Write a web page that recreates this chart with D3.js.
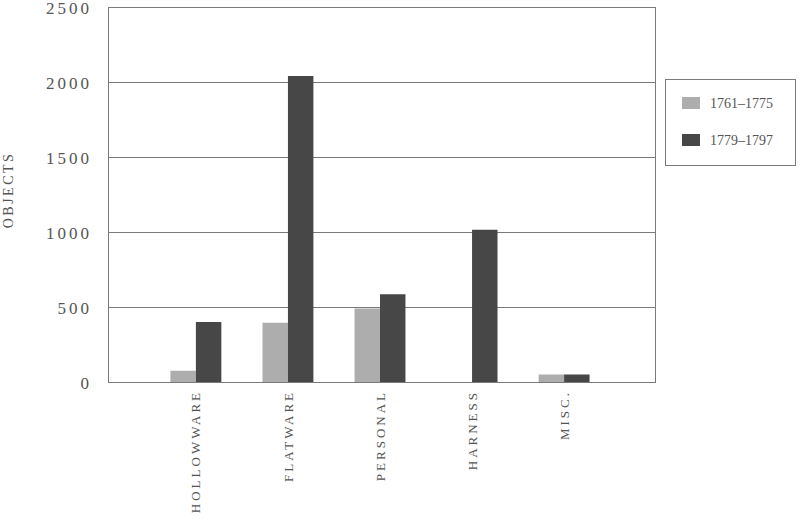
<!DOCTYPE html>
<html>
<head>
<meta charset="utf-8">
<script src="https://cdn.jsdelivr.net/npm/d3@7"></script>
<style>
  html, body { margin: 0; padding: 0; background: #fff; }
  svg text { font-family: "Liberation Serif", "DejaVu Serif", serif; fill: #555; }
</style>
</head>
<body>
<svg id="chart" width="800" height="520"></svg>
<script>
const categories = ["HOLLOWWARE", "FLATWARE", "PERSONAL", "HARNESS", "MISC."];
const seriesNames = ["1761–1775", "1779–1797"];
const series1761 = [75, 395, 490, 0, 50];
const series1779 = [400, 2040, 585, 1015, 50];
const yTicks = [0, 500, 1000, 1500, 2000, 2500];
const colors = ["#adadad", "#474747"];

const svg = d3.select("#chart");
const plot = { left: 108, right: 655, top: 7, bottom: 382 };

const y = d3.scaleLinear().domain([0, 2500]).range([plot.bottom, plot.top]);
const x = d3.scaleBand().domain(categories).range([150, 610])
  .paddingInner(0.447).paddingOuter(0.222);
const xs = d3.scaleBand().domain([0, 1]).range([0, x.bandwidth()]);

// gridlines
svg.append("g").selectAll("line").data(yTicks).join("line")
  .attr("x1", plot.left).attr("x2", plot.right)
  .attr("y1", d => y(d) + 0.5).attr("y2", d => y(d) + 0.5)
  .attr("stroke", "#7a7a7a").attr("stroke-width", 1);

// frame
svg.append("rect")
  .attr("x", plot.left + 0.5).attr("y", plot.top + 0.5)
  .attr("width", plot.right - plot.left).attr("height", plot.bottom - plot.top)
  .attr("fill", "none").attr("stroke", "#7a7a7a").attr("stroke-width", 1);

// bars
const data = categories.map((c, i) => ({ c, vals: [series1761[i], series1779[i]] }));
const groups = svg.append("g").selectAll("g").data(data).join("g")
  .attr("transform", d => `translate(${x(d.c)},0)`);
groups.selectAll("rect").data(d => d.vals.map((v, k) => ({ v, k }))).join("rect")
  .attr("x", d => xs(d.k)).attr("width", xs.bandwidth())
  .attr("y", d => y(d.v)).attr("height", d => y(0) - y(d.v))
  .attr("fill", d => colors[d.k]);

// y axis labels
const yAxis = d3.axisLeft(y).tickValues(yTicks).tickSize(0).tickPadding(16).tickFormat(d3.format("d"));
const ga = svg.append("g").attr("transform", `translate(${plot.left},0)`).call(yAxis);
ga.select(".domain").remove();
ga.selectAll("text").style("font-size", "17px").style("letter-spacing", "3px")
  .attr("fill", "#555").attr("dy", "0.36em");

// y axis title
svg.append("text").attr("transform", "translate(13,190) rotate(-90)")
  .attr("text-anchor", "middle").style("font-size", "14px").style("letter-spacing", "2.5px")
  .text("OBJECTS");

// x axis labels (rotated)
const xAxis = d3.axisBottom(x).tickSize(0).tickPadding(0);
const gx = svg.append("g").attr("transform", `translate(0,${plot.bottom})`).call(xAxis);
gx.select(".domain").remove();
gx.selectAll("text")
  .attr("transform", "rotate(-90)")
  .attr("x", -8).attr("y", 0).attr("dy", "0.35em")
  .attr("text-anchor", "end")
  .attr("fill", "#555")
  .style("font-size", "13px").style("letter-spacing", "3px");

// legend
const lg = svg.append("g");
lg.append("rect").attr("x", 665.5).attr("y", 79.5).attr("width", 130).attr("height", 86)
  .attr("fill", "#fff").attr("stroke", "#7a7a7a");
const items = lg.selectAll("g.item").data(seriesNames).join("g").attr("class", "item")
  .attr("transform", (d, i) => `translate(682,${97 + i * 37})`);
items.append("rect").attr("width", 18).attr("height", 12).attr("fill", (d, i) => colors[i]);
items.append("text").attr("x", 28).attr("y", 11).style("font-size", "14px").text(d => d);
</script>
</body>
</html>
